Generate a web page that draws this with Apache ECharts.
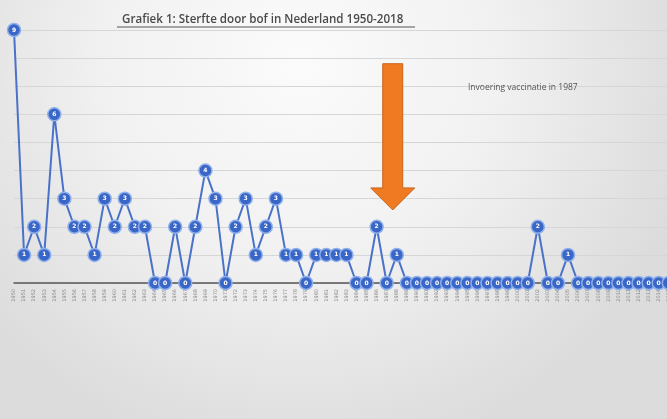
<!DOCTYPE html>
<html><head><meta charset="utf-8">
<script src="https://cdn.jsdelivr.net/npm/echarts@6/dist/echarts.min.js"></script>
<style>html,body{margin:0;padding:0;}#c{width:667px;height:419px;}</style>
</head><body><div id="c"></div>
<script>
const years = [];
for (let y = 1950; y <= 2018; y++) years.push(String(y));
const deaths = [9,1,2,1,6,3,2,2,1,3,2,3,2,2,0,0,2,0,2,4,
                3,0,2,3,1,2,3,1,1,0,1,1,1,1,0,0,2,0,1,0,
                0,0,0,0,0,0,0,0,0,0,0,0,2,0,0,1,0,0,0,0,
                0,0,0,0,0,0,0,0,0];
const titleText = 'Grafiek 1: Sterfte door bof in Nederland 1950-2018';
const noteText = 'Invoering vaccinatie in 1987';
const arrowYear = '1987';

const chart = echarts.init(document.getElementById('c'));
const option = {
  backgroundColor: {
    type: 'radial', x: 0.45, y: 0.15, r: 0.95,
    colorStops: [{offset: 0, color: '#fbfbfb'}, {offset: 0.5, color: '#f1f1f1'}, {offset: 1, color: '#dcdcdc'}]
  },
  animation: false,
  title: {
    text: titleText, left: 117, top: 9,
    textStyle: {fontFamily: 'Open Sans', fontSize: 11.6, fontWeight: 600, color: '#4a4a4a'}
  },
  grid: {left: 14, width: 685, top: 30, bottom: 136, outerBoundsMode: 'none', containLabel: false},
  xAxis: {
    type: 'category', data: years, boundaryGap: false,
    axisLine: {lineStyle: {color: '#555', width: 1.5}},
    axisTick: {show: false},
    axisLabel: {rotate: 90, fontSize: 5, color: '#888', interval: 0, margin: 6, fontFamily: 'DejaVu Sans'}
  },
  yAxis: {
    type: 'value', min: 0, max: 9, interval: 1,
    axisLabel: {show: false}, axisLine: {show: false}, axisTick: {show: false},
    splitLine: {lineStyle: {color: '#d6d6d6', width: 1}}
  },
  series: [{
    type: 'line', data: deaths,
    symbol: 'circle', symbolSize: 13,
    lineStyle: {color: '#4a72c8', width: 2},
    itemStyle: {color: '#3a66c8', borderColor: '#8fb0ea', borderWidth: 1.5},
    label: {show: true, position: 'inside', color: '#fff', fontSize: 6, fontFamily: 'DejaVu Sans', fontWeight: 'bold'},
    z: 3
  }]
};
chart.setOption(option);

const tipPt = chart.convertToPixel({gridIndex: 0}, [arrowYear, 2.6]);
const topPt = chart.convertToPixel({gridIndex: 0}, [arrowYear, 7.8]);
const headTop = tipPt[1] - 22;
const tx = tipPt[0] + 6;
chart.setOption({
  graphic: [
    {type: 'polygon', shape: {points: [
      [tx - 10, topPt[1]], [tx + 10, topPt[1]], [tx + 10, headTop], [tx + 22, headTop],
      [tx, tipPt[1]], [tx - 22, headTop], [tx - 10, headTop]
    ]}, style: {fill: '#f07a22', stroke: '#c8641c', lineWidth: 1}, z: 10},
    {type: 'text', left: 468, top: 83, style: {text: noteText, fontSize: 8.5, fill: '#555', fontFamily: 'Open Sans'}},
    {type: 'line', shape: {x1: 117, y1: 27, x2: 415, y2: 27}, style: {stroke: '#555', lineWidth: 1}}
  ]
});
</script></body></html>
